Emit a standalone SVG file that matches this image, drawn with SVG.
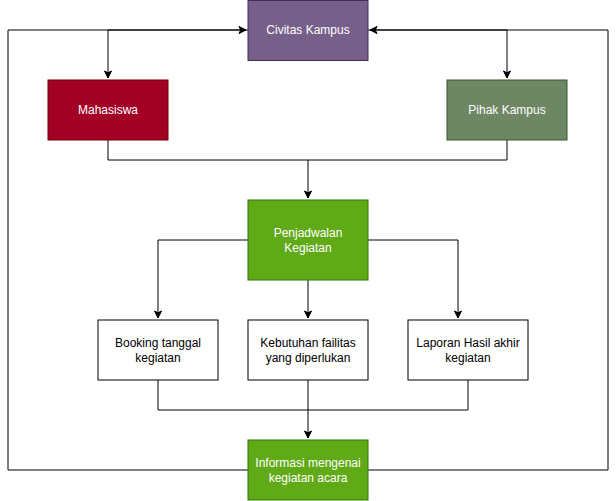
<svg xmlns="http://www.w3.org/2000/svg" width="616" height="501" viewBox="0 0 616 501">
<style>
.t{font-family:"Liberation Sans",Arial,Helvetica,sans-serif;font-size:12px;text-anchor:middle}
.w{fill:#ffffff}
.k{fill:#000000}
.e{fill:none;stroke:#000000;stroke-width:1}
</style>
<defs>
<marker id="a" markerUnits="userSpaceOnUse" markerWidth="10" markerHeight="10" viewBox="0 0 10 10" refX="8" refY="5" orient="auto">
<path d="M1,1.5 L8,5 L1,8.5 L2.8,5 Z" fill="#000" stroke="#000" stroke-width="1"/>
</marker>
</defs>
<rect width="616" height="501" fill="#ffffff"/>
<g id="connectors">
<path class="e" d="M248,470 H8 V30 H246" marker-end="url(#a)"/>
<path class="e" d="M368,470 H608 V30 H370" marker-end="url(#a)"/>
<path class="e" d="M248,30 H108 V78" marker-end="url(#a)"/>
<path class="e" d="M368,30 H507 V78" marker-end="url(#a)"/>
<path class="e" d="M108,140 V160 H308 V198" marker-end="url(#a)"/>
<path class="e" d="M507,140 V160 H308"/>
<path class="e" d="M248,240 H158 V318" marker-end="url(#a)"/>
<path class="e" d="M308,280 V318" marker-end="url(#a)"/>
<path class="e" d="M368,240 H458 V318" marker-end="url(#a)"/>
<path class="e" d="M158,380 V410 H308 V438" marker-end="url(#a)"/>
<path class="e" d="M308,380 V410"/>
<path class="e" d="M468,380 V410 H308"/>
</g>
<g id="civitas">
<rect x="248" y="0.5" width="120" height="60" fill="#76608a" stroke="#432d57"/>
<text class="t w" x="308" y="34">Civitas Kampus</text>
</g>
<g id="mahasiswa">
<rect x="48" y="80" width="120" height="60" fill="#a20025" stroke="#6f0000"/>
<text class="t w" x="108" y="114">Mahasiswa</text>
</g>
<g id="pihak">
<rect x="447" y="80" width="120" height="60" fill="#6d8764" stroke="#3a5431"/>
<text class="t w" x="507" y="114">Pihak Kampus</text>
</g>
<g id="penjadwalan">
<rect x="248" y="200" width="120" height="80" fill="#60a917" stroke="#2d7600"/>
<text class="t w" x="308" y="237">Penjadwalan</text>
<text class="t w" x="308" y="252">Kegiatan</text>
</g>
<g id="booking">
<rect x="98" y="320" width="120" height="60" fill="#ffffff" stroke="#000000"/>
<text class="t k" x="158" y="347">Booking tanggal</text>
<text class="t k" x="158" y="362">kegiatan</text>
</g>
<g id="kebutuhan">
<rect x="248" y="320" width="120" height="60" fill="#ffffff" stroke="#000000"/>
<text class="t k" x="308" y="347">Kebutuhan failitas</text>
<text class="t k" x="308" y="362">yang diperlukan</text>
</g>
<g id="laporan">
<rect x="408" y="320" width="120" height="60" fill="#ffffff" stroke="#000000"/>
<text class="t k" x="468" y="347">Laporan Hasil akhir</text>
<text class="t k" x="468" y="362">kegiatan</text>
</g>
<g id="informasi">
<rect x="248" y="440" width="120" height="60" fill="#60a917" stroke="#2d7600"/>
<text class="t w" x="308" y="467">Informasi mengenai</text>
<text class="t w" x="308" y="482">kegiatan acara</text>
</g>
</svg>
